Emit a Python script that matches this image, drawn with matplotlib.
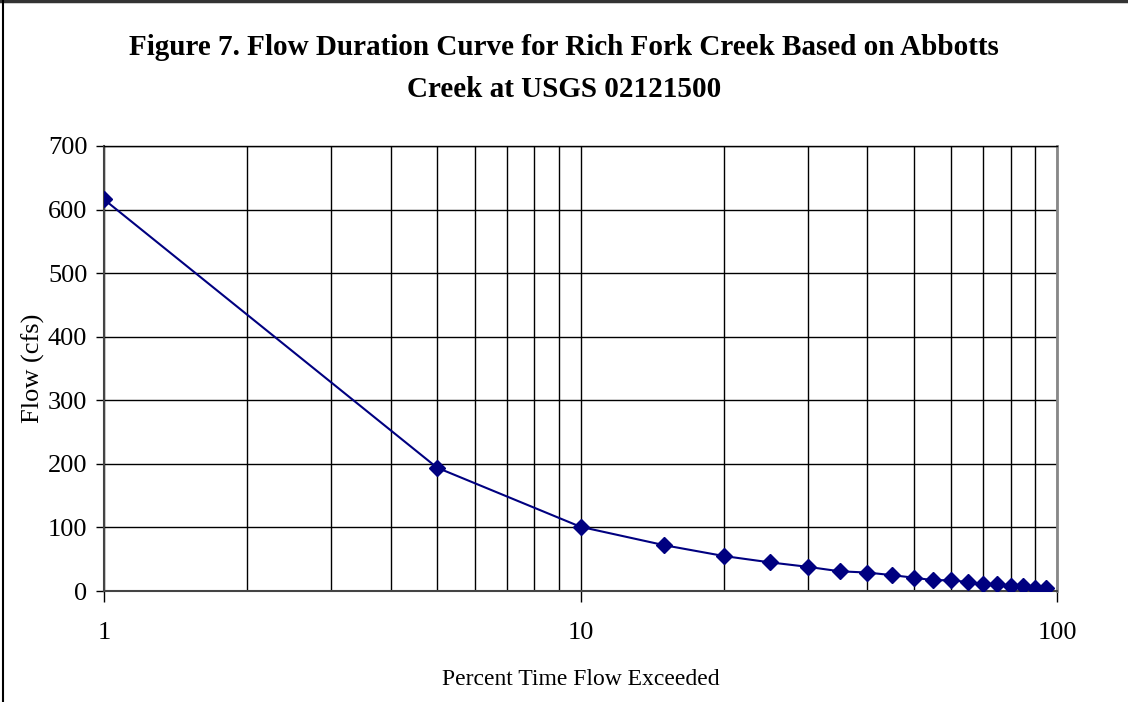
import matplotlib
matplotlib.use("Agg")
import matplotlib.pyplot as plt
from matplotlib.ticker import FixedLocator, NullFormatter, FixedFormatter
from matplotlib.lines import Line2D

percent_exceeded = [1, 5, 10, 15, 20, 25, 30, 35, 40, 45, 50, 55, 60, 65, 70, 75, 80, 85, 90, 95]
flow_cfs = [616, 194, 101, 72, 55, 45, 38, 31, 29, 25, 21, 17, 17, 14, 11, 11, 8, 8, 5, 5]
y_ticks = [0, 100, 200, 300, 400, 500, 600, 700]
x_major = [1, 10, 100]
x_major_labels = ["1", "10", "100"]
x_minor = [2, 3, 4, 5, 6, 7, 8, 9, 20, 30, 40, 50, 60, 70, 80, 90]

title = "Figure 7. Flow Duration Curve for Rich Fork Creek Based on Abbotts\nCreek at USGS 02121500"

plt.rcParams['font.family'] = ['Liberation Serif', 'DejaVu Serif']

fig = plt.figure(figsize=(11.28, 7.02), dpi=100)
ax = fig.add_axes([104/1128, 1 - 591/702, (1057-104)/1128, (591-146)/702])

ax.plot(percent_exceeded, flow_cfs, color='#000080', linewidth=1.5,
        marker='D', markersize=8.5, markerfacecolor='#000080', markeredgecolor='#000080', zorder=3)

ax.set_xscale('log')
ax.set_xlim(1, 100)
ax.set_ylim(0, 700)

ax.xaxis.set_major_locator(FixedLocator(x_major))
ax.xaxis.set_major_formatter(FixedFormatter(x_major_labels))
ax.xaxis.set_minor_locator(FixedLocator(x_minor))
ax.xaxis.set_minor_formatter(NullFormatter())
ax.set_yticks(y_ticks)

ax.grid(True, which='both', axis='x', color='black', linewidth=1.0)
ax.grid(True, which='major', axis='y', color='black', linewidth=1.0)
ax.set_axisbelow(True)

ax.tick_params(axis='x', which='major', direction='out', length=8, width=1, pad=14, labelsize=19)
ax.tick_params(axis='x', which='minor', length=0)
ax.tick_params(axis='y', direction='out', length=6, width=1, pad=6, labelsize=19)

for s in ['left', 'bottom']:
    ax.spines[s].set_color('#444444')
    ax.spines[s].set_linewidth(1.5)
ax.spines['right'].set_color('#888888')
ax.spines['right'].set_linewidth(2)
ax.spines['top'].set_color('black')
ax.spines['top'].set_linewidth(1)

ax.set_ylabel("Flow (cfs)", fontsize=19, labelpad=2)
ax.set_xlabel("Percent Time Flow Exceeded", fontsize=17, labelpad=18)

fig.text(0.5, 0.902, title, ha='center', va='center', fontsize=21, fontweight='bold',
         linespacing=1.7)

# outer chart border (top and left visible)
fig.add_artist(Line2D([0, 1], [1 - 1/702, 1 - 1/702], transform=fig.transFigure, color='#333333', linewidth=2.5))
fig.add_artist(Line2D([3/1128, 3/1128], [0, 1], transform=fig.transFigure, color='black', linewidth=1.5))

fig.savefig("out.png", dpi=100)
